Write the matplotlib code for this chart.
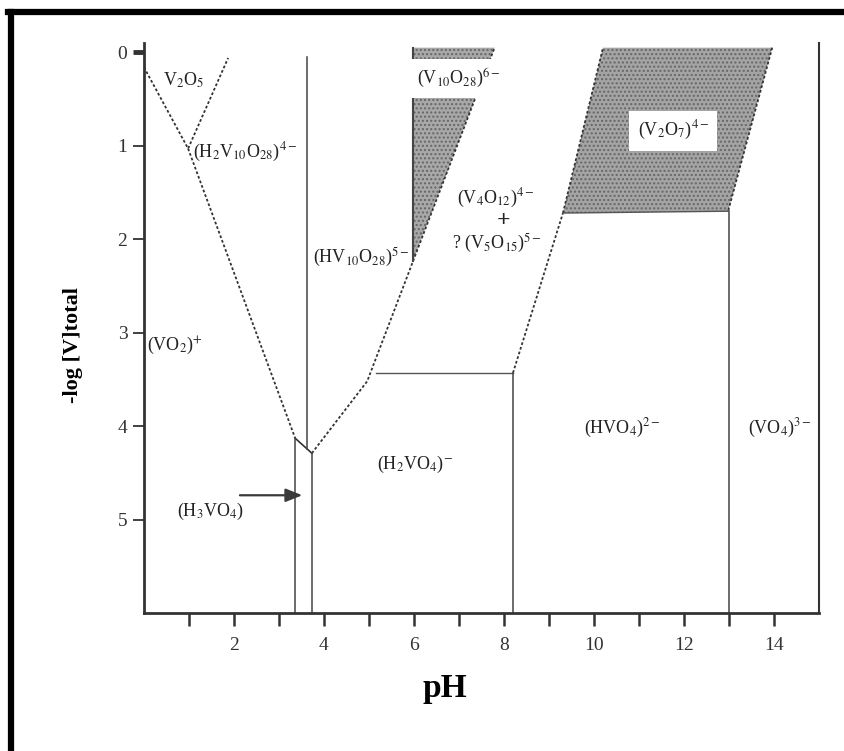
import matplotlib
matplotlib.use('Agg')
import matplotlib.pyplot as plt
from matplotlib.patches import Polygon
from matplotlib.lines import Line2D

plt.rcParams['font.family'] = ['Liberation Serif', 'DejaVu Serif']
plt.rcParams['mathtext.fontset'] = 'stix'

# boundary lines (pH, -log[V]total)
v2o5_ph = [0.0, 0.98, 1.87]
v2o5_v = [0.16, 1.03, 0.06]
acid_ph = [0.98, 3.36]
acid_v = [1.03, 4.13]
base_ph = [3.36, 3.73]
base_v = [4.13, 4.29]
deca_ph = [3.73, 4.96, 7.79]
deca_v = [4.29, 3.52, -0.05]
meta_ph = [8.2, 9.31]
meta_v = [3.43, 1.72]
h2vo4_top_ph = [5.16, 8.2]
h2vo4_top_v = [3.43, 3.43]

# vertical boundaries: pH, top, bottom
vert_ph = [3.62, 3.36, 3.73, 8.2, 13.0]
vert_top = [0.05, 4.13, 4.29, 3.43, 1.70]
vert_bot = [4.24, 6.0, 6.0, 6.0, 6.0]

# shaded regions
v10o28_ph = [5.98, 7.79, 5.98]
v10o28_v = [-0.05, -0.05, 2.23]
v2o7_ph = [10.2, 13.96, 12.98, 9.31]
v2o7_v = [-0.05, -0.05, 1.70, 1.72]

# species labels
labels = ['V$_2$O$_5$', '(H$_2$V$_{10}$O$_{28}$)$^{4-}$', '(HV$_{10}$O$_{28}$)$^{5-}$',
          '(V$_{10}$O$_{28}$)$^{6-}$', '(V$_4$O$_{12}$)$^{4-}$', '+', '? (V$_5$O$_{15}$)$^{5-}$',
          '(VO$_2$)$^{+}$', '(H$_3$VO$_4$)', '(H$_2$VO$_4$)$^{-}$', '(HVO$_4$)$^{2-}$',
          '(VO$_4$)$^{3-}$', '(V$_2$O$_7$)$^{4-}$']
label_ph = [0.87, 2.24, 4.84, 7.0, 7.82, 8.0, 7.84, 0.69, 1.47, 6.02, 10.64, 14.13, 11.76]
label_v = [0.30, 1.07, 2.2, 0.28, 1.56, 1.80, 2.04, 3.14, 4.91, 4.41, 4.03, 4.03, 0.84]

arrow_tail = (2.07, 4.74)
arrow_head = (3.58, 4.74)

fig = plt.figure(figsize=(8.45, 7.51), dpi=100)
ax = fig.add_axes([144 / 845, 1 - 613 / 751, 675 / 845, 570 / 751])

lc = '#333333'
ax.add_patch(Polygon(list(zip(v10o28_ph, v10o28_v)), closed=True, facecolor='#a8a8a8',
                     edgecolor='#666666', hatch='....', lw=0))
ax.add_patch(Polygon(list(zip(v2o7_ph, v2o7_v)), closed=True, facecolor='#a4a4a4',
                     edgecolor='#666666', hatch='....', lw=0))

for xs, ys in [(v2o5_ph, v2o5_v), (acid_ph, acid_v), (deca_ph, deca_v), (meta_ph, meta_v),
               ([9.31, 10.2], [1.72, -0.05]), ([13.96, 12.98], [-0.05, 1.70])]:
    ax.plot(xs, ys, color=lc, lw=1.3, ls=(0, (1.5, 1.2)))
ax.plot(base_ph, base_v, color=lc, lw=1.2)
ax.plot(h2vo4_top_ph, h2vo4_top_v, color='#555555', lw=1.0)
ax.plot([9.31, 12.98], [1.72, 1.70], color='#555555', lw=1.0)
ax.plot([5.98, 5.98], [-0.05, 2.23], color='#444444', lw=1.5)
for p, t, b in zip(vert_ph, vert_top, vert_bot):
    ax.plot([p, p], [t, b], color='#444444', lw=1.1)

boxed = {'(V$_{10}$O$_{28}$)$^{6-}$', '(V$_2$O$_7$)$^{4-}$'}
for s, x, y in zip(labels, label_ph, label_v):
    kw = {}
    if s in boxed:
        kw['bbox'] = dict(facecolor='white', edgecolor='none', pad=6)
    fs = 17 if s == '+' else 13
    w = 'bold' if s == '+' else 'normal'
    ax.text(x, y, s, ha='center', va='center', fontsize=fs, fontweight=w, color='#222222', **kw)

ax.annotate('', xy=arrow_head, xytext=arrow_tail,
            arrowprops=dict(arrowstyle='-|>,head_length=1.0,head_width=0.4', color='#3a3a3a', lw=1.6))

ax.set_xlim(0, 15)
ax.set_ylim(6.0, -0.1)
ax.set_xticks(range(1, 15))
ax.set_xticklabels(['' if i % 2 else str(i) for i in range(1, 15)])
ax.set_yticks(range(0, 6))
ax.tick_params(axis='x', direction='out', length=9, width=1.8, labelsize=14, pad=8, colors='#333333')
ax.tick_params(axis='y', direction='out', length=8, width=1.3, labelsize=14, pad=4, colors='#333333')
ax.yaxis.get_major_ticks()[0].tick1line.set_markeredgewidth(3.5)
ax.spines['top'].set_visible(False)
for side, w in [('left', 2.0), ('bottom', 2.0), ('right', 1.5)]:
    ax.spines[side].set_linewidth(w)
    ax.spines[side].set_color('#333333')

ax.set_xlabel('pH', fontsize=24, fontweight='bold')
ax.xaxis.set_label_coords(0.446, -0.105)
ax.set_ylabel('-log [V]total', fontsize=16, fontweight='bold')
ax.yaxis.set_label_coords(-0.09, 0.47)

# scan frame
fig.add_artist(Line2D([11 / 845, 11 / 845], [0, 1 - 12 / 751], color='black', lw=4.5))
fig.add_artist(Line2D([8 / 845, 1], [1 - 12 / 751, 1 - 12 / 751], color='black', lw=4.5))

fig.savefig('out.png', dpi=100, facecolor='white')
plt.close()
